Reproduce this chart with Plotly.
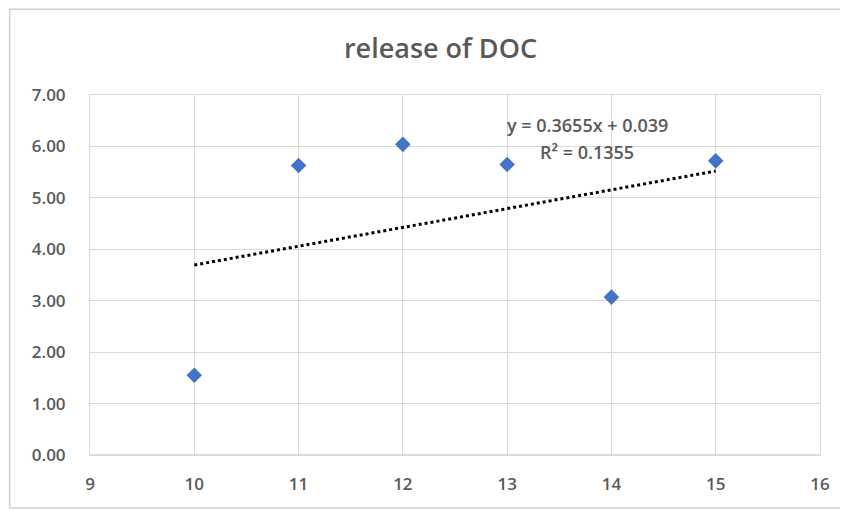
import plotly.graph_objects as go

x_vals = [10, 11, 12, 13, 14, 15]
y_vals = [1.55, 5.63, 6.04, 5.65, 3.07, 5.72]
slope = 0.3655
intercept = 0.039
eq_text = "y = 0.3655x + 0.039"
r2_text = "R² = 0.1355"
title_text = "release of DOC"
y_ticks = [0, 1, 2, 3, 4, 5, 6, 7]
x_ticks = [9, 10, 11, 12, 13, 14, 15, 16]

grey = "#595959"
font_fam = "Open Sans, Liberation Sans, Arial"

trend_x = [min(x_vals), max(x_vals)]
trend_y = [slope * v + intercept for v in trend_x]

fig = go.Figure()
fig.add_trace(go.Scatter(
    x=trend_x, y=trend_y, mode="lines",
    line=dict(color="black", width=3, dash="dot"),
    hoverinfo="skip", showlegend=False,
))
fig.add_trace(go.Scatter(
    x=x_vals, y=y_vals, mode="markers",
    marker=dict(symbol="diamond", color="#4472C4", size=12),
    showlegend=False,
))

tick_font = dict(family=font_fam, size=17, color=grey, weight=600)
ann_font = dict(family=font_fam, size=18, color=grey, weight=600)

fig.update_layout(
    width=848, height=510,
    margin=dict(l=82, r=36, t=87, b=63, autoexpand=False),
    paper_bgcolor="white", plot_bgcolor="white",
    title=dict(text=title_text, x=0.51, xanchor="center", y=0.92, yanchor="middle",
               font=dict(family=font_fam, size=27, color=grey, weight=600)),
    xaxis=dict(range=[9, 16], tickvals=x_ticks, ticktext=[str(v) for v in x_ticks],
               showgrid=True, gridcolor="#D9D9D9", gridwidth=1, automargin=False,
               zeroline=False, showline=True, linecolor="#D9D9D9", mirror=True, ticks="",
               ticklabelstandoff=14, tickfont=tick_font),
    yaxis=dict(range=[0, 7], tickvals=y_ticks, ticktext=[f"{v:.2f}" for v in y_ticks],
               showgrid=True, gridcolor="#D9D9D9", gridwidth=1, automargin=False,
               zeroline=False, showline=True, linecolor="#D9D9D9", mirror=True, ticks="",
               ticklabelstandoff=20, tickfont=tick_font),
    annotations=[
        dict(x=13.77, y=6.42, xref="x", yref="y", text=eq_text, showarrow=False,
             font=ann_font),
        dict(x=13.77, y=5.89, xref="x", yref="y", text=r2_text, showarrow=False,
             font=ann_font),
    ],
    shapes=[
        dict(type="line", xref="paper", yref="y", x0=0, x1=1, y0=0, y1=0,
             line=dict(color="#BFBFBF", width=1)),
        dict(type="rect", xref="paper", yref="paper", x0=-0.11, x1=1.2, y0=-0.147, y1=1.238,
             line=dict(color="#D0D0D0", width=1.5), layer="below"),
    ],
)

fig.write_html("out.html")
